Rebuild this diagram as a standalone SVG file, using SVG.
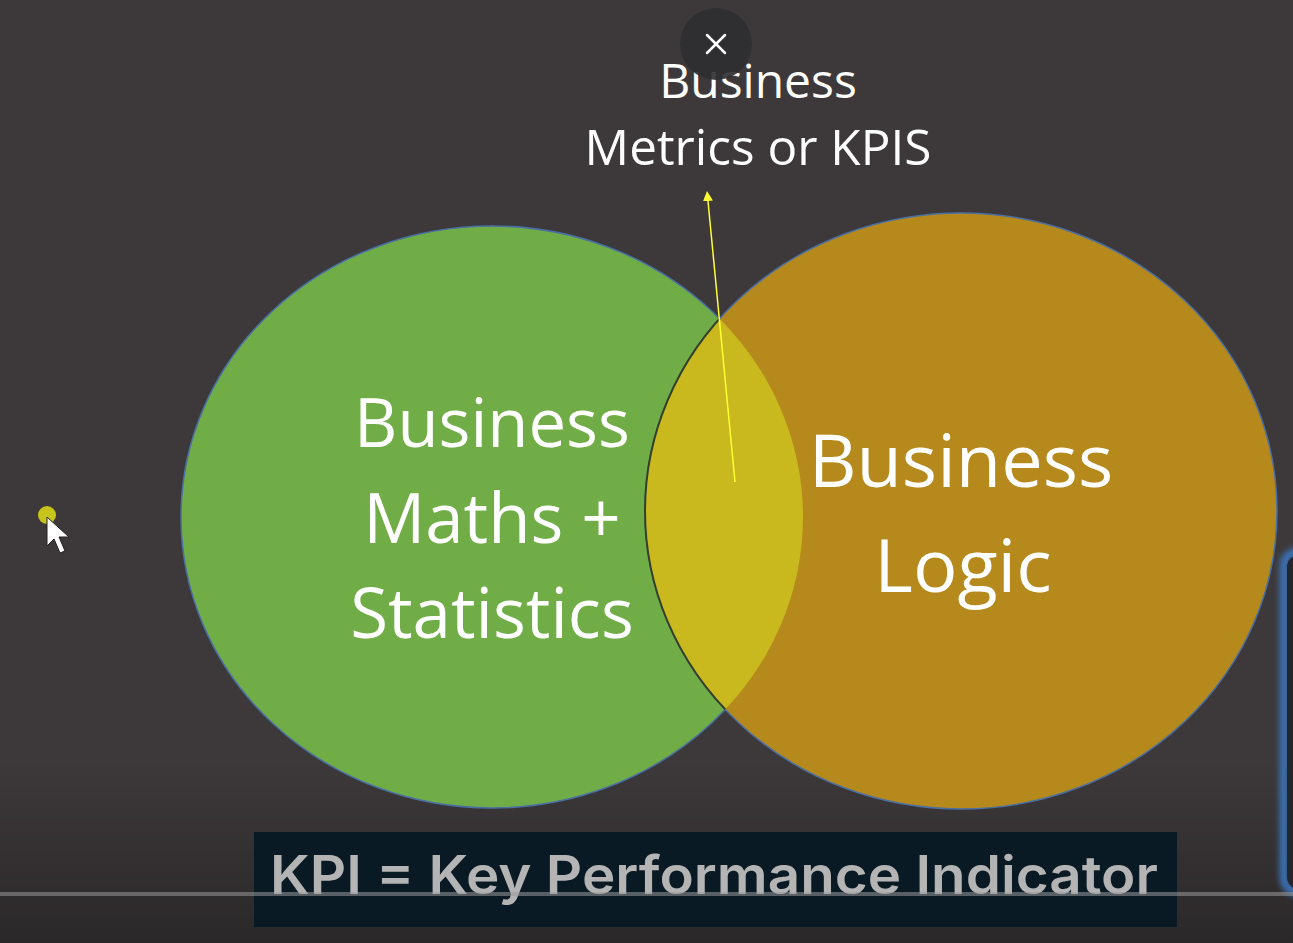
<svg xmlns="http://www.w3.org/2000/svg" width="1293" height="943" viewBox="0 0 1293 943">
<defs>
<style>
.lbl{font-family:"Open Sans","Noto Sans",sans-serif;fill:#ffffff;text-anchor:middle}
.cap{font-family:"Inter","Lato",sans-serif;font-weight:600;fill:#b4b4b4}
</style>
<linearGradient id="shade" x1="0" y1="0" x2="0" y2="1">
<stop offset="0" stop-color="#000" stop-opacity="0"/>
<stop offset="1" stop-color="#000" stop-opacity="0.3"/>
</linearGradient>
<filter id="glow" x="-50%" y="-10%" width="200%" height="120%"><feGaussianBlur stdDeviation="3"/></filter>
<clipPath id="gclip"><ellipse cx="492" cy="517" rx="311" ry="291"/></clipPath>
<marker id="ah" markerWidth="10" markerHeight="10" refX="5" refY="5" orient="auto" markerUnits="userSpaceOnUse">
<path d="M0,0 L10,5 L0,10 Z" fill="#ffff33"/>
</marker>
</defs>
<rect width="1293" height="943" fill="#3d393a"/>
<rect x="0" y="760" width="1293" height="183" fill="url(#shade)"/>
<g id="right-panel">
<rect x="1284" y="552" width="40" height="340" rx="14" fill="none" stroke="#3b78c4" stroke-width="8" filter="url(#glow)"/>
<rect x="1287" y="555" width="40" height="334" rx="12" fill="#23262e"/>
</g>
<g id="node-maths">
<ellipse cx="492" cy="517" rx="311" ry="291" fill="#70ad47" stroke="#4a6fa5" stroke-width="1.5"/>
</g>
<g id="node-logic">
<ellipse cx="961" cy="511" rx="316" ry="298" fill="#b5891b" stroke="#4a6fa5" stroke-width="1.5"/>
</g>
<g id="node-overlap">
<ellipse cx="961" cy="511" rx="316" ry="298" fill="#c9b91e" clip-path="url(#gclip)"/>
<ellipse cx="961" cy="511" rx="316" ry="298" fill="none" stroke="#34402e" stroke-width="2" clip-path="url(#gclip)"/>
</g>
<g id="labels">
<text class="lbl" x="492" y="447" font-size="67">Business</text>
<text class="lbl" x="492" y="543" font-size="69">Maths +</text>
<text class="lbl" x="492" y="638" font-size="69">Statistics</text>
<text class="lbl" x="961" y="487" font-size="74">Business</text>
<text class="lbl" x="963" y="592" font-size="74">Logic</text>
<text class="lbl" x="758" y="98" font-size="48">Business</text>
<text class="lbl" x="758" y="165" font-size="49.5">Metrics or KPIS</text>
</g>
<g id="connectors">
<line x1="735" y1="482" x2="707.5" y2="196" stroke="#ffff33" stroke-width="1.5" marker-end="url(#ah)"/>
</g>
<g id="close-button">
<circle cx="716" cy="44" r="36" fill="#2e2d31" fill-opacity="0.9"/>
<path d="M707,35 L725,53 M725,35 L707,53" stroke="#ffffff" stroke-width="2.5" stroke-linecap="round"/>
</g>
<g id="cursor">
<circle cx="47" cy="515" r="9" fill="#c9c41c"/>
<path d="M47,517 L47,546 L54,539 L60,553 L65,551 L59,537 L69,537 Z" fill="#ffffff" stroke="#222" stroke-width="1"/>
</g>
<g id="caption">
<rect x="254" y="832" width="923" height="95" fill="#0a1a24"/>
<text class="cap" x="270" y="894" font-size="53" textLength="888" lengthAdjust="spacingAndGlyphs">KPI = Key Performance Indicator</text>
</g>
<rect x="0" y="892" width="1293" height="4" fill="#9a9a9a" fill-opacity="0.55"/>
</svg>
